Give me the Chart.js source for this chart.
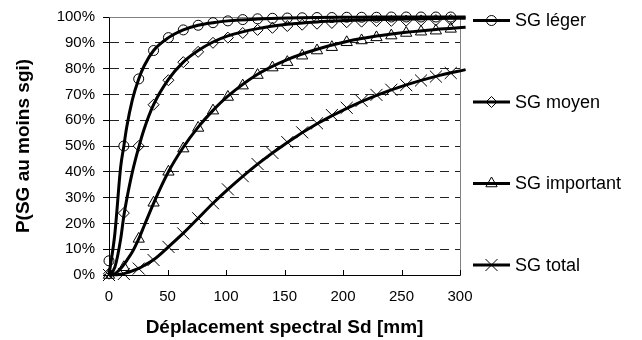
<!DOCTYPE html>
<html><head><meta charset="utf-8">
<script src="https://cdn.jsdelivr.net/npm/chart.js@4/dist/chart.umd.min.js"></script>
<style>html,body{margin:0;padding:0;background:#fff;}canvas{display:block;}</style>
</head><body>
<canvas id="c" width="642" height="340"></canvas>
<script>
// ---- data ----
const seriesNames = ['SG léger', 'SG moyen', 'SG important', 'SG total'];
const xTickValues = [0, 50, 100, 150, 200, 250, 300];
const yTickValues = [0, 10, 20, 30, 40, 50, 60, 70, 80, 90, 100];

// marker positions (mm)
const markerX = [0, 12.7, 25.4, 38.1, 50.8, 63.5, 76.2, 88.9, 101.6, 114.3, 127, 139.7,
                 152.4, 165.1, 177.8, 190.5, 203.2, 215.9, 228.6, 241.3, 254, 266.7, 279.4, 292.1];
const legerMarkers = [5.5, 50, 76, 87, 92, 95, 96.8, 97.8, 98.5, 99, 99.3, 99.5,
                      99.6, 99.7, 99.8, 99.8, 99.9, 99.9, 99.9, 100, 100, 100, 100, 100];
const moyenMarkers = [0.5, 24, 50, 66, 75.5, 82.5, 86.5, 90, 92, 93.8, 95, 95.8,
                      96.5, 97, 97.4, 97.7, 98, 98.2, 98.4, 98.5, 98.6, 98.7, 98.8, 98.9];
const importantMarkers = [0, 3, 14, 28, 40, 49, 57, 63.7, 69, 73.4, 77.5, 80.4,
                          82.5, 85, 87, 88.3, 90.2, 90.9, 92.1, 92.8, 93.8, 94.3, 94.7, 95.4];
const totalMarkers = [0, 0.4, 2.5, 5.8, 10.9, 16.1, 22, 27.8, 33.2, 38.3, 43, 47.3,
                      51.5, 55.3, 58.8, 62, 64.8, 67.5, 69.8, 71.8, 73.6, 75.4, 76.9, 78.3];

// curve sample positions (mm)
const curveX = [0, 5, 10, 12.7, 15, 20, 25.4, 30, 38.1, 50.8, 63.5, 76.2, 88.9, 101.6,
                127, 152.4, 177.8, 203.2, 228.6, 254, 279.4, 304.8];
const legerCurve = [0, 16, 42, 50, 57, 68, 76, 81, 87, 92, 95, 96.8, 97.8, 98.5,
                    99.2, 99.6, 99.8, 99.9, 100, 100, 100, 100];
const moyenCurve = [0, 3, 14, 23, 29, 40, 49.5, 56.5, 66, 75.8, 82.5, 87, 90.3, 92.7,
                    95.5, 97.2, 98.1, 98.6, 99, 99.2, 99.4, 99.5];
const importantCurve = [0, 0.5, 2.5, 4, 5.5, 9, 14, 19, 27.8, 40, 49.5, 57.3, 63.8, 69.3,
                        77.8, 83.5, 87.5, 90.5, 92.6, 94.1, 95.2, 96];
const totalCurve = [0, 0.05, 0.3, 0.5, 0.8, 1.6, 2.6, 3.7, 5.9, 10.9, 16.2, 22, 27.8, 33.2,
                    43, 51.4, 58.6, 64.6, 69.6, 73.7, 77, 79.6];

// ---- styles ----
const FONT = '"Liberation Sans", Arial, Helvetica, sans-serif';
const markerStyles = [
  {pointStyle: 'circle', radius: 5},
  {pointStyle: 'rectRot', radius: 5.5},
  {pointStyle: 'triangle', radius: 6.5},
  {pointStyle: 'crossRot', radius: 8.5}
];
const markerSets = [legerMarkers, moyenMarkers, importantMarkers, totalMarkers];
const curveSets = [legerCurve, moyenCurve, importantCurve, totalCurve];
const legendY = [20.5, 102, 183.5, 265];

const toPts = (xs, ys) => xs.map((x, i) => ({x: x, y: ys[i]}));

const datasets = [];
markerSets.forEach((vals, i) => {
  datasets.push({
    label: seriesNames[i] + ' (points)',
    data: toPts(markerX, vals),
    showLine: false,
    pointStyle: markerStyles[i].pointStyle,
    pointRadius: markerStyles[i].radius,
    pointBorderWidth: 1,
    pointBorderColor: '#000',
    pointBackgroundColor: 'rgba(0,0,0,0)',
    clip: false
  });
});
curveSets.forEach((vals, i) => {
  datasets.push({
    label: seriesNames[i],
    data: toPts(curveX, vals),
    showLine: true,
    borderColor: '#000',
    borderWidth: 3,
    pointRadius: 0,
    cubicInterpolationMode: 'monotone',
    fill: false,
    clip: false
  });
});

function drawMarker(ctx, style, x, y) {
  if (Chart.helpers && Chart.helpers.drawPoint) {
    Chart.helpers.drawPoint(ctx, {pointStyle: style.pointStyle, radius: style.radius, rotation: 0, borderWidth: 1}, x, y);
  }
}

const decor = {
  id: 'decor',
  beforeDatasetsDraw(chart) {
    const {ctx, chartArea: a, scales: {x}} = chart;
    ctx.save();
    // plot-area frame (top and right)
    ctx.strokeStyle = '#808080';
    ctx.lineWidth = 1;
    ctx.setLineDash([]);
    ctx.beginPath();
    ctx.moveTo(Math.round(a.left) + 0.5, Math.round(a.top) + 0.5);
    ctx.lineTo(Math.round(a.right) + 0.5, Math.round(a.top) + 0.5);
    ctx.lineTo(Math.round(a.right) + 0.5, Math.round(a.bottom) + 0.5);
    ctx.stroke();
    // x tick marks (inside)
    ctx.strokeStyle = '#000';
    ctx.beginPath();
    x.ticks.forEach(t => {
      const px = Math.round(x.getPixelForValue(t.value)) + 0.5;
      ctx.moveTo(px, a.bottom - 5);
      ctx.lineTo(px, a.bottom);
    });
    ctx.stroke();
    ctx.restore();
  },
  afterDatasetsDraw(chart) {
    const ctx = chart.ctx;
    ctx.save();
    seriesNames.forEach((name, i) => {
      const y = legendY[i];
      ctx.setLineDash([]);
      ctx.strokeStyle = '#000';
      ctx.lineWidth = 3;
      ctx.beginPath();
      ctx.moveTo(473, y);
      ctx.lineTo(510, y);
      ctx.stroke();
      ctx.lineWidth = 1;
      ctx.fillStyle = 'rgba(0,0,0,0)';
      drawMarker(ctx, markerStyles[i], 491.5, y);
      ctx.fillStyle = '#000';
      ctx.font = '18px ' + FONT;
      ctx.textBaseline = 'middle';
      ctx.textAlign = 'left';
      ctx.fillText(name, 515, y + 1);
    });
    ctx.restore();
  }
};

Chart.defaults.font.family = FONT;
Chart.defaults.color = '#000';

new Chart(document.getElementById('c'), {
  type: 'scatter',
  data: {datasets: datasets},
  plugins: [decor],
  options: {
    responsive: false,
    devicePixelRatio: 1,
    animation: false,
    events: [],
    layout: {padding: {left: 0, right: 182, top: 16, bottom: 0}},
    plugins: {legend: {display: false}, tooltip: {enabled: false}},
    scales: {
      x: {
        type: 'linear',
        min: 0, max: 300,
        afterBuildTicks(s) { s.ticks = xTickValues.map(v => ({value: v})); },
        ticks: {font: {size: 15}, color: '#000', padding: 13, maxRotation: 0},
        grid: {display: false, drawTicks: false},
        border: {display: true, color: '#000', width: 1},
        title: {display: true, text: 'Déplacement spectral Sd [mm]', font: {size: 19, weight: 'bold'}, color: '#000', padding: {top: 0, bottom: 1}},
        afterFit(s) { s.height = 65; }
      },
      y: {
        type: 'linear',
        min: 0, max: 100,
        afterBuildTicks(s) { s.ticks = yTickValues.map(v => ({value: v})); },
        ticks: {font: {size: 15}, color: '#000', padding: 8, callback: v => v + '%'},
        grid: {display: true, color: '#222', lineWidth: 1, drawTicks: true, tickLength: 6, tickColor: '#000', tickBorderDash: [], borderDash: [9, 6]},
        border: {display: true, color: '#000', width: 1, dash: [9, 6]},
        title: {display: true, text: 'P(SG au moins sgi)', font: {size: 19, weight: 'bold'}, color: '#000', padding: {top: 12, bottom: 0}},
        afterFit(s) { s.width = 109; }
      }
    }
  }
});
</script>
</body></html>
